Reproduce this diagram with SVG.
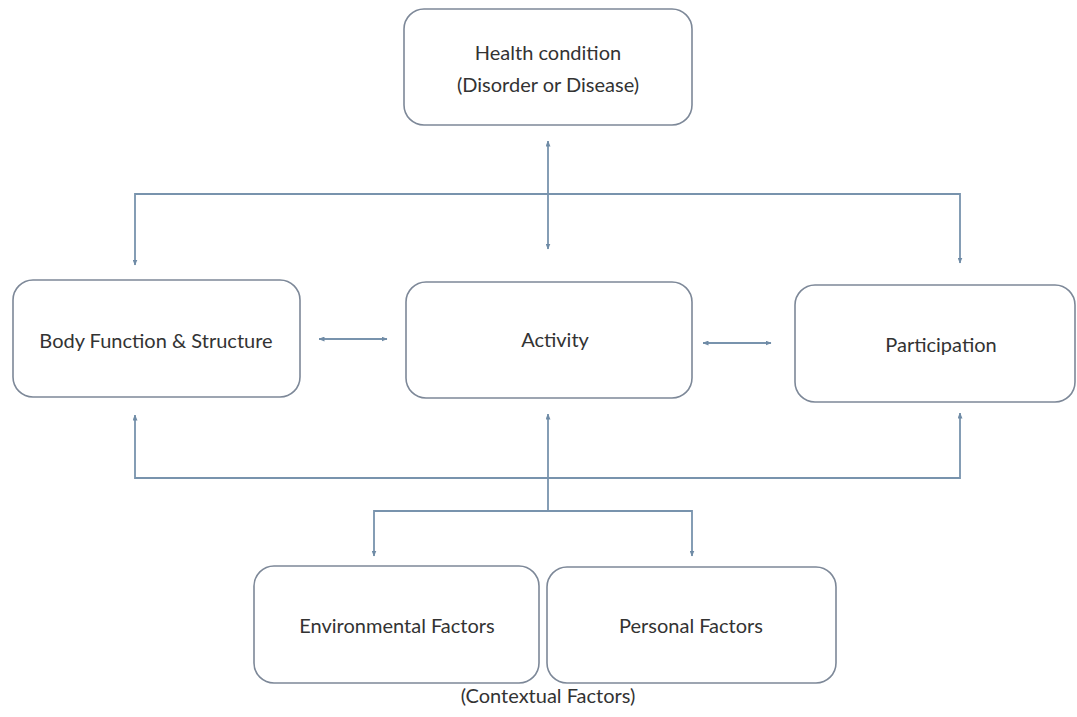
<svg xmlns="http://www.w3.org/2000/svg" width="1077" height="717" viewBox="0 0 1077 717">
<defs>
<marker id="ah" markerUnits="userSpaceOnUse" markerWidth="6" markerHeight="5" refX="5.5" refY="2.5" orient="auto-start-reverse">
<path d="M0,0 L6,2.5 L0,5 z" fill="#6f8ba6"/>
</marker>
<style>
.box{fill:#ffffff;stroke:#7d8898;stroke-width:1.6}
.lbl{font-family:Lato,"Liberation Sans",sans-serif;font-size:20px;fill:#333333;text-anchor:middle}
.ln{fill:none;stroke:#7893ad;stroke-width:1.8}
</style>
</defs>
<rect width="1077" height="717" fill="#ffffff"/>
<g id="connectors">
<line class="ln" x1="548" y1="141" x2="548" y2="249" marker-start="url(#ah)" marker-end="url(#ah)"/>
<polyline class="ln" points="135,265 135,194 960,194 960,263" marker-end="url(#ah)" marker-start="url(#ah)"/>
<polyline class="ln" points="135,415 135,478 960,478 960,413" marker-end="url(#ah)" marker-start="url(#ah)"/>
<line class="ln" x1="548" y1="414" x2="548" y2="511" marker-start="url(#ah)"/>
<polyline class="ln" points="374,556 374,511 692,511 692,556" marker-start="url(#ah)" marker-end="url(#ah)"/>
<line class="ln" x1="319" y1="339" x2="387" y2="339" marker-start="url(#ah)" marker-end="url(#ah)"/>
<line class="ln" x1="703" y1="343" x2="771" y2="343" marker-start="url(#ah)" marker-end="url(#ah)"/>
</g>
<g id="health">
<rect class="box" x="404" y="9" width="288" height="116" rx="20"/>
<text class="lbl" x="548" y="60">Health condition</text>
<text class="lbl" x="548" y="92">(Disorder or Disease)</text>
</g>
<g id="body">
<rect class="box" x="13" y="280" width="287" height="117" rx="20"/>
<text class="lbl" x="156" y="348">Body Function &amp; Structure</text>
</g>
<g id="activity">
<rect class="box" x="406" y="282" width="286" height="116" rx="20"/>
<text class="lbl" x="555" y="347">Activity</text>
</g>
<g id="participation">
<rect class="box" x="795" y="285" width="280" height="117" rx="20"/>
<text class="lbl" x="941" y="352">Participation</text>
</g>
<g id="environmental">
<rect class="box" x="254" y="566" width="285" height="117" rx="20"/>
<text class="lbl" x="397" y="633">Environmental Factors</text>
</g>
<g id="personal">
<rect class="box" x="547" y="567" width="289" height="116" rx="20"/>
<text class="lbl" x="691" y="633">Personal Factors</text>
</g>
<g id="contextual">
<text class="lbl" x="548" y="703">(Contextual Factors)</text>
</g>
</svg>
